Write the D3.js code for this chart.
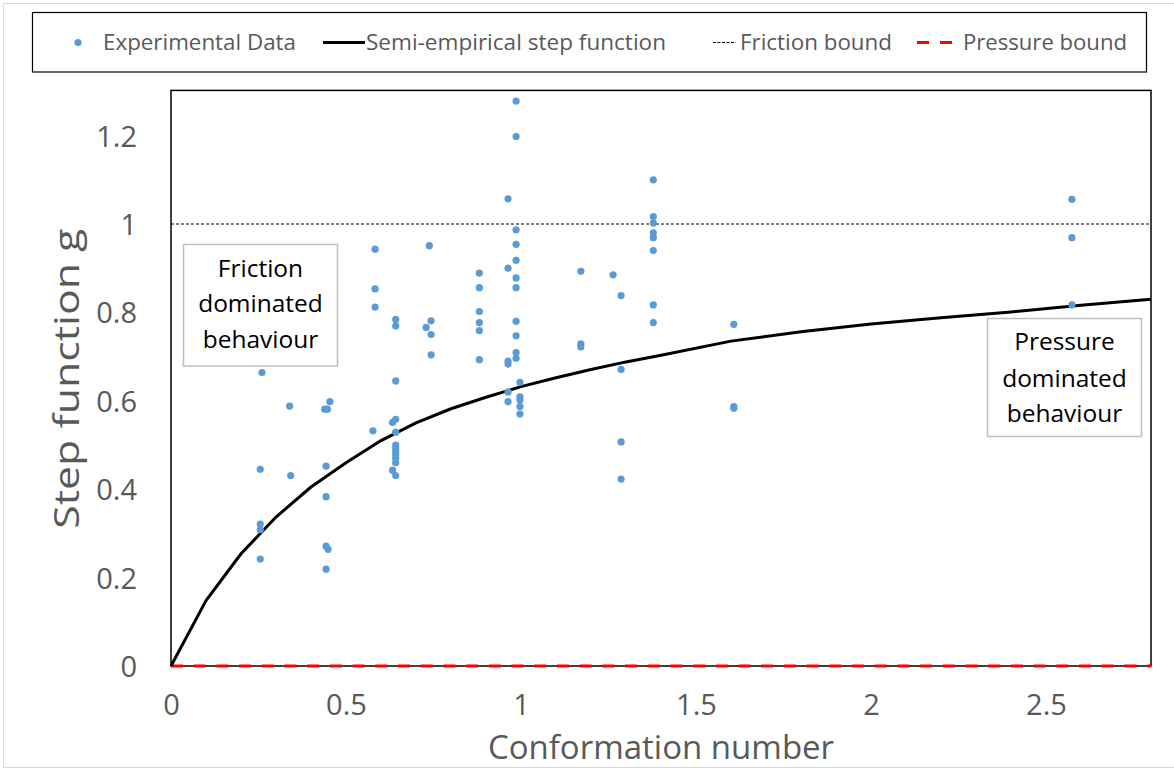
<!DOCTYPE html>
<html>
<head>
<meta charset="utf-8">
<script src="https://cdn.jsdelivr.net/npm/d3@7"></script>
<style>
  html, body { margin: 0; padding: 0; background: #fff; }
  svg { display: block; font-family: "Open Sans", sans-serif; }
</style>
</head>
<body>
<svg id="chart" width="1174" height="772"></svg>
<script>
// ---- Data ----
const expX = [
  0.255, 0.255, 0.255, 0.255, 0.26,
  0.339, 0.342,
  0.454, 0.439, 0.447, 0.443, 0.443, 0.443, 0.449, 0.443,
  0.583, 0.583, 0.583, 0.577,
  0.642, 0.642, 0.642, 0.642, 0.633, 0.642, 0.642, 0.642, 0.642, 0.642, 0.642, 0.642, 0.633, 0.642,
  0.738, 0.743, 0.729, 0.743, 0.743,
  0.881, 0.881, 0.881, 0.881, 0.881, 0.881,
  0.963, 0.963, 0.963, 0.963, 0.963, 0.963,
  0.986, 0.986, 0.986, 0.986, 0.986, 0.986, 0.986, 0.986, 0.986, 0.986, 0.986,
  0.997, 0.997, 0.997, 0.997, 0.997,
  1.171, 1.171, 1.171,
  1.263,
  1.286, 1.286, 1.286, 1.286,
  1.378, 1.378, 1.378, 1.378, 1.378, 1.378, 1.378, 1.378,
  1.608, 1.608, 1.608,
  2.574, 2.574, 2.574
];
const expG = [
  0.445, 0.321, 0.308, 0.242, 0.664,
  0.588, 0.431,
  0.598, 0.581, 0.581, 0.452, 0.383, 0.271, 0.264, 0.219,
  0.943, 0.853, 0.812, 0.532,
  0.784, 0.769, 0.645, 0.558, 0.551, 0.529, 0.500, 0.492, 0.485, 0.477, 0.470, 0.460, 0.443, 0.431,
  0.951, 0.781, 0.766, 0.750, 0.704,
  0.889, 0.856, 0.802, 0.777, 0.759, 0.693,
  1.057, 0.900, 0.690, 0.683, 0.620, 0.598,
  1.278, 1.198, 0.987, 0.954, 0.918, 0.878, 0.856, 0.780, 0.747, 0.709, 0.696,
  0.642, 0.609, 0.602, 0.587, 0.570,
  0.893, 0.729, 0.722,
  0.885,
  0.838, 0.671, 0.507, 0.423,
  1.100, 1.017, 1.002, 0.980, 0.969, 0.940, 0.817, 0.777,
  0.773, 0.587, 0.583,
  1.056, 0.969, 0.817
];
const curveX = [0, 0.1, 0.2, 0.3, 0.4, 0.5, 0.6, 0.7, 0.8, 0.9, 1.0, 1.1, 1.2, 1.3, 1.4, 1.6, 1.8, 2.0, 2.2, 2.4, 2.6, 2.8];
const curveG = [0, 0.148, 0.254, 0.337, 0.405, 0.460, 0.510, 0.550, 0.582, 0.608, 0.632, 0.652, 0.671, 0.688, 0.703, 0.735, 0.756, 0.774, 0.788, 0.801, 0.816, 0.830];
const frictionBound = 1;
const pressureBound = 0;
const xTicks = [0, 0.5, 1, 1.5, 2, 2.5];
const yTicks = [0, 0.2, 0.4, 0.6, 0.8, 1, 1.2];
const legendLabels = ["Experimental Data", "Semi-empirical step function", "Friction bound", "Pressure bound"];
const xTitle = "Conformation number";
const yTitle = "Step function g";
const noteFriction = ["Friction", "dominated", "behaviour"];
const notePressure = ["Pressure", "dominated", "behaviour"];

// ---- Layout ----
const svg = d3.select("#chart");
const P = {left: 171, right: 1151, top: 91.4, bottom: 666};
const x = d3.scaleLinear().domain([0, 2.8]).range([P.left, P.right]);
const y = d3.scaleLinear().domain([0, 1.3]).range([P.bottom, P.top]);
const grey = "#595959";
const blue = "#5b9bd5";

// outer chart border
svg.append("rect").attr("x", 3.5).attr("y", 3.5).attr("width", 1190).attr("height", 764)
  .attr("fill", "none").attr("stroke", "#d9d9d9").attr("stroke-width", 1);

// axes (labels only)
const fmt = d => String(+d.toFixed(1));
const gx = svg.append("g").attr("transform", `translate(0,${P.bottom})`)
  .call(d3.axisBottom(x).tickValues(xTicks).tickFormat(fmt).tickSize(0).tickPadding(30));
const gy = svg.append("g").attr("transform", `translate(${P.left},0)`)
  .call(d3.axisLeft(y).tickValues(yTicks).tickFormat(fmt).tickSize(0).tickPadding(34));
[gx, gy].forEach(g => {
  g.select(".domain").remove();
  g.selectAll("text").attr("fill", grey).style("font-size", "29px").style("font-family", "Open Sans");
});
gx.selectAll("text").attr("dy", null).attr("y", 49);
gy.selectAll("text").attr("dy", "0.36em");

// plot border
svg.append("rect").attr("x", P.left).attr("y", P.top - 1).attr("width", P.right - P.left).attr("height", P.bottom - P.top + 1)
  .attr("fill", "none").attr("stroke", "#000").attr("stroke-width", 1.5);

// friction bound
svg.append("line").attr("x1", x(0)).attr("x2", x(2.8)).attr("y1", y(frictionBound)).attr("y2", y(frictionBound))
  .attr("stroke", "#000").attr("stroke-width", 1).attr("stroke-dasharray", "3,2");

// pressure bound
svg.append("line").attr("x1", x(0)).attr("x2", x(2.8)).attr("y1", y(pressureBound)).attr("y2", y(pressureBound))
  .attr("stroke", "#ff0000").attr("stroke-width", 3).attr("stroke-dasharray", "12,10.7");

// annotation boxes
function noteBox(x0, y0, w, h, lines, cx, baselines) {
  svg.append("rect").attr("x", x0).attr("y", y0).attr("width", w).attr("height", h)
    .attr("fill", "#fff").attr("stroke", "#bfbfbf").attr("stroke-width", 1.5);
  lines.forEach((t, i) => {
    svg.append("text").attr("x", cx).attr("y", baselines[i]).attr("text-anchor", "middle")
      .attr("fill", "#000").style("font-size", "24.5px").text(t);
  });
}
noteBox(183.5, 244.5, 154, 121.5, noteFriction, 260.5, [276.5, 312, 347.5]);

// curve
const line = d3.line().x((d, i) => x(curveX[i])).y((d, i) => y(curveG[i]));
svg.append("path").datum(curveG).attr("d", line).attr("fill", "none")
  .attr("stroke", "#000").attr("stroke-width", 3).attr("stroke-linejoin", "round");

// points
svg.append("g").selectAll("circle").data(expX).join("circle")
  .attr("cx", d => x(d)).attr("cy", (d, i) => y(expG[i])).attr("r", 3.6).attr("fill", blue);

noteBox(987.5, 318.5, 154, 118, notePressure, 1064.5, [350, 386.5, 421.5]);

// axis titles
svg.append("text").attr("x", (P.left + P.right) / 2).attr("y", 759).attr("text-anchor", "middle")
  .attr("fill", grey).style("font-size", "33px").text(xTitle);
svg.append("text").attr("transform", `translate(79,${(P.top + P.bottom) / 2}) rotate(-90)`)
  .attr("text-anchor", "middle").attr("fill", grey).style("font-size", "34px")
  .attr("textLength", 300).attr("lengthAdjust", "spacingAndGlyphs").text(yTitle);

// legend
svg.append("rect").attr("x", 32.5).attr("y", 12.5).attr("width", 1114).attr("height", 59.5)
  .attr("fill", "#fff").attr("stroke", "#000").attr("stroke-width", 1.2);
const ly = 42.5;
svg.append("circle").attr("cx", 78).attr("cy", ly).attr("r", 3.6).attr("fill", blue);
svg.append("line").attr("x1", 323).attr("x2", 365).attr("y1", ly).attr("y2", ly).attr("stroke", "#000").attr("stroke-width", 3);
svg.append("line").attr("x1", 713).attr("x2", 736).attr("y1", ly).attr("y2", ly).attr("stroke", "#000").attr("stroke-width", 1).attr("stroke-dasharray", "3,1.5");
svg.append("line").attr("x1", 917).attr("x2", 952).attr("y1", ly).attr("y2", ly).attr("stroke", "#ff0000").attr("stroke-width", 3).attr("stroke-dasharray", "12,11");
const lx = [103, 366, 740, 963];
const lw = [193, 300, 152, 164];
legendLabels.forEach((t, i) => {
  svg.append("text").attr("x", lx[i]).attr("y", 49.5).attr("fill", grey).style("font-size", "21px")
    .attr("textLength", lw[i]).attr("lengthAdjust", "spacingAndGlyphs").text(t);
});
</script>
</body>
</html>
